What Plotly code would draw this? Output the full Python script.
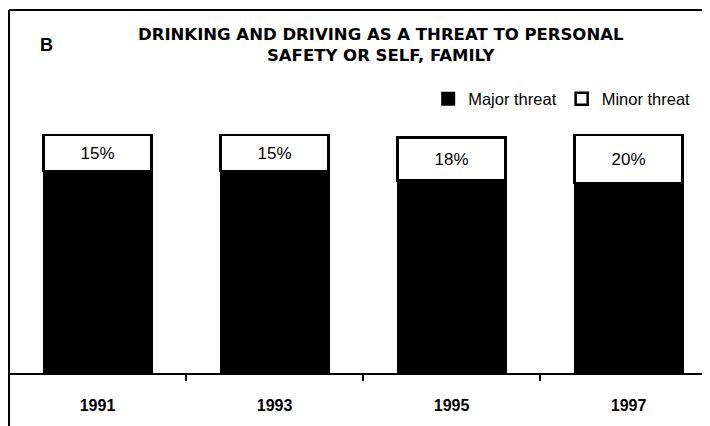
import plotly.graph_objects as go

years = ["1991", "1993", "1995", "1997"]
major = [84, 84, 80, 79]
minor = [15, 15, 18, 20]
major_labels = [f"{v}%" for v in major]
minor_labels = [f"{v}%" for v in minor]

fig = go.Figure()
fig.add_trace(go.Bar(
    x=years, y=major, name="Major threat",
    marker=dict(color="black", line=dict(color="black", width=2)),
    text=major_labels, textposition="inside", insidetextanchor="middle",
    textfont=dict(color="black", size=15, family="Liberation Sans"),
    width=0.61,
))
fig.add_trace(go.Bar(
    x=years, y=minor, name="Minor threat",
    marker=dict(color="white", line=dict(color="black", width=2.5)),
    text=minor_labels, textposition="inside", insidetextanchor="middle",
    textfont=dict(color="black", size=17, family="Liberation Sans"),
    width=0.61,
))

fig.update_layout(
    barmode="stack",
    width=702, height=418,
    margin=dict(l=1, r=0, t=2, b=53),
    paper_bgcolor="white", plot_bgcolor="white",
    showlegend=True,
    legend=dict(orientation="h", x=0.598, xanchor="left", y=0.755, yanchor="middle",
                font=dict(family="Liberation Sans", size=16.5, color="black"),
                tracegroupgap=0, bgcolor="rgba(0,0,0,0)", traceorder="normal",
                itemwidth=30),
    font=dict(family="Liberation Sans", color="black"),
    xaxis=dict(range=[-0.5, 3.46], showline=True, linecolor="black", linewidth=1.5,
               ticks="outside", tickson="boundaries", ticklen=6, tickcolor="black",
               tickwidth=1.5, showgrid=False, ticklabelstandoff=17,
               tickfont=dict(size=16, family="Liberation Sans", color="black", weight="bold")),
    yaxis=dict(range=[0, 151], showticklabels=False, showgrid=False, zeroline=False,
               ticks="", showline=False),
)

# frame lines: left vertical spanning full height and top border
fig.add_shape(type="line", xref="paper", yref="paper", x0=0, x1=0, y0=-0.2, y1=1.0,
              line=dict(color="black", width=2))
fig.add_shape(type="line", xref="paper", yref="paper", x0=0, x1=1, y0=1.0, y1=1.0,
              line=dict(color="black", width=2))

fig.add_annotation(text="<b>B</b>", xref="paper", yref="paper", x=0.053, y=0.904,
                   xanchor="center", yanchor="middle",
                   showarrow=False, font=dict(size=18, family="Liberation Sans", color="black"))
fig.add_annotation(text="<b>DRINKING AND DRIVING AS A THREAT TO PERSONAL<br>SAFETY OR SELF, FAMILY</b>",
                   xref="paper", yref="paper", x=0.531, y=0.904, yanchor="middle",
                   showarrow=False, align="center",
                   font=dict(size=16.5, family="DejaVu Sans", color="black"))

fig.write_html("out.html")
